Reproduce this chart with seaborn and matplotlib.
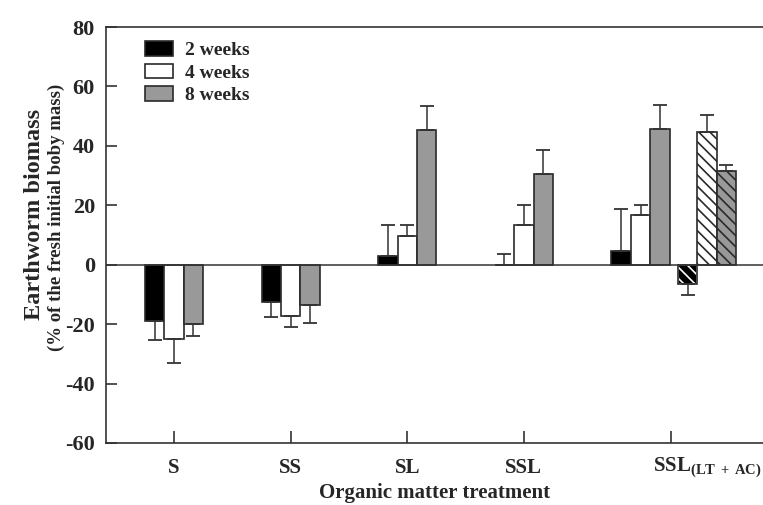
import matplotlib
matplotlib.use("Agg")
import matplotlib.pyplot as plt
import pandas as pd
import seaborn as sns
from matplotlib.patches import Patch, Rectangle

# dane
treatments = ["S", "SS", "SL", "SSL", "SSL(LT+AC)", "SSL(LT+AC) hatched"]
group_pos = [0, 1, 2, 3, 4, 4.57]
hatched_group = [False, False, False, False, False, True]
weeks = ["2 weeks", "4 weeks", "8 weeks"]

biomass_2w = [-19.1, -12.5, 3.1, 0.0, 4.5, -6.5]
biomass_4w = [-25.0, -17.4, 9.6, 13.3, 16.6, 44.8]
biomass_8w = [-19.8, -13.5, 45.2, 30.5, 45.8, 31.5]
err_2w = [6.2, 5.1, 10.1, 3.7, 14.2, 3.8]
err_4w = [8.0, 3.4, 3.9, 6.7, 3.6, 5.7]
err_8w = [4.2, 6.0, 8.3, 8.1, 8.1, 2.0]

tick_labels = ["S", "SS", "SL", "SSL", ""]
last_label = r"SSL$_{\mathbf{(LT\,+\,AC)}}$"
tick_pos = [0, 1, 2, 3, 4.26]
y_ticks = [-60, -40, -20, 0, 20, 40, 60, 80]

week_colors = ["#000000", "#ffffff", "#999999"]
edge = "#2a2a2a"

rows = []
for week, vals, errs in zip(weeks, [biomass_2w, biomass_4w, biomass_8w], [err_2w, err_4w, err_8w]):
    for t, p, h, v, e in zip(treatments, group_pos, hatched_group, vals, errs):
        rows.append({"treatment": t, "pos": p, "hatched": h, "week": week, "value": v, "err": e})
df = pd.DataFrame(rows)

sns.set_style("ticks")
plt.rcParams["font.family"] = ["Liberation Serif", "DejaVu Serif"]
plt.rcParams["font.weight"] = "bold"
plt.rcParams["mathtext.fontset"] = "custom"
plt.rcParams["mathtext.bf"] = "Liberation Serif:bold"
plt.rcParams["mathtext.rm"] = "Liberation Serif:bold"
plt.rcParams["hatch.linewidth"] = 1.2

fig = plt.figure(figsize=(7.63, 5.05), dpi=100)
ax = fig.add_axes([0.139, 0.1228, 0.861, 0.8237])

native_width = min(b - a for a, b in zip(group_pos[:-1], group_pos[1:]))
sns.barplot(
    data=df, x="pos", y="value", hue="week", hue_order=weeks,
    palette=week_colors, native_scale=True, width=0.5 / native_width,
    edgecolor=edge, linewidth=1.2, errorbar=None, legend=False, ax=ax,
)

# errorbary jednostronne + kreskowanie ostatniej grupy
hatch = "\\" * 3
xs, ys, lo, hi = [], [], [], []
for week, cont in zip(weeks, ax.containers):
    sub = df[df["week"] == week].sort_values("pos").reset_index(drop=True)
    for bar, (_, r) in zip(cont.patches, sub.iterrows()):
        xs.append(bar.get_x() + bar.get_width() / 2)
        ys.append(r["value"])
        if r["value"] < 0:
            lo.append(r["err"]); hi.append(0)
        else:
            lo.append(0); hi.append(r["err"])
        if r["hatched"]:
            bar.set_hatch(hatch)
            if week == "2 weeks":
                bar.set_edgecolor("white")
                ax.add_patch(Rectangle(bar.get_xy(), bar.get_width(), bar.get_height(),
                                       fill=False, edgecolor=edge, linewidth=1.2, zorder=3))

ax.errorbar(xs, ys, yerr=[lo, hi], fmt="none", ecolor="#333333", elinewidth=1.1,
            capsize=5, capthick=1.3, zorder=4)

ax.axhline(0, color="#333333", linewidth=1.1, zorder=5)

ax.set_xlim(-0.583, 5.05)
ax.set_ylim(-60, 80)
ax.set_yticks(y_ticks)
ax.set_yticklabels([str(v) for v in y_ticks])
ax.set_xticks(tick_pos)
ax.set_xticklabels(tick_labels)
ax.annotate(last_label, xy=(tick_pos[-1], 0), xycoords=("data", "axes fraction"),
            xytext=(-18, -13), textcoords="offset pixels", ha="left", va="top",
            fontsize=15, fontweight="bold")

ax.tick_params(axis="y", direction="in", length=8, width=1.2, labelsize=16, pad=8, color="#333333")
ax.tick_params(axis="x", direction="in", length=9, width=1.2, labelsize=15, pad=11, color="#333333")
for lab in ax.get_xticklabels() + ax.get_yticklabels():
    lab.set_fontweight("bold")

for s in ["left", "top", "bottom"]:
    ax.spines[s].set_color("#333333")
    ax.spines[s].set_linewidth(1.2)
ax.spines["right"].set_visible(False)

ax.set_xlabel("Organic matter treatment", fontsize=15, fontweight="bold", labelpad=3.5)
ax.set_ylabel("")
fig.text(0.045, 0.575, "Earthworm biomass", rotation=90, ha="center", va="center",
         fontsize=17.5, fontweight="bold")
fig.text(0.074, 0.57, "(% of the fresh initial boby mass)", rotation=90, ha="center",
         va="center", fontsize=13.5, fontweight="bold")

handles = [Patch(facecolor=c, edgecolor=edge, linewidth=1.2) for c in week_colors]
ax.legend(handles, weeks, loc="upper left", bbox_to_anchor=(0.047, 0.985), frameon=False,
          prop={"size": 14, "weight": "bold"}, handlelength=1.45, handleheight=0.8,
          labelspacing=0.22, handletextpad=0.6, borderaxespad=0)

fig.savefig("out.png", dpi=100)
plt.close()
